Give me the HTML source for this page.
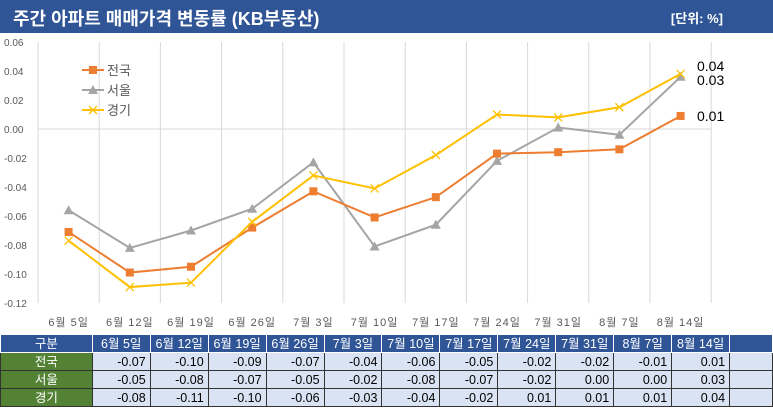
<!DOCTYPE html>
<html><head><meta charset="utf-8"><style>
body{margin:0;width:773px;height:409px;background:#fff;overflow:hidden;font-family:"Liberation Sans","Noto Sans CJK KR",sans-serif}
#title{position:absolute;left:0;top:0;width:773px;height:33px;background:#2f5597;color:#fff;font-weight:bold}
#title .t{position:absolute;left:13px;top:5px;font-size:18px}
#title .u{position:absolute;right:50px;top:8px;font-size:13px}
table{position:absolute;left:0;top:334px;border-collapse:collapse;font-size:12.5px}
td{height:17px;line-height:16px;padding:0 4px;border:1px solid #333;text-align:right;background:#dae3f3;color:#000;box-sizing:border-box}
td.h{background:#2f5597;color:#fff;text-align:center;border-color:#fff}
td.l{background:#548235;color:#fff;text-align:center;width:83px}
</style></head><body>
<div id="title"><span class="t">주간 아파트 매매가격 변동률 (KB부동산)</span><span class="u">[단위: %]</span></div>
<svg id="chart" width="773" height="333" style="position:absolute;left:0;top:0"></svg>
<table id="tbl"></table>
<script>
const categories=["6월 5일","6월 12일","6월 19일","6월 26일","7월 3일","7월 10일","7월 17일","7월 24일","7월 31일","8월 7일","8월 14일"];
const national=[-0.071,-0.099,-0.095,-0.068,-0.043,-0.061,-0.047,-0.017,-0.016,-0.014,0.009];
const seoul=[-0.056,-0.082,-0.070,-0.055,-0.023,-0.081,-0.066,-0.022,0.001,-0.004,0.036];
const gyeonggi=[-0.077,-0.109,-0.106,-0.064,-0.032,-0.041,-0.018,0.010,0.008,0.015,0.038];
const yTicks=[0.06,0.04,0.02,0,-0.02,-0.04,-0.06,-0.08,-0.10,-0.12];
const tNational=["-0.07","-0.10","-0.09","-0.07","-0.04","-0.06","-0.05","-0.02","-0.02","-0.01","0.01"];
const tSeoul=["-0.05","-0.08","-0.07","-0.05","-0.02","-0.08","-0.07","-0.02","0.00","0.00","0.03"];
const tGyeonggi=["-0.08","-0.11","-0.10","-0.06","-0.03","-0.04","-0.02","0.01","0.01","0.01","0.04"];
const endLabels=["0.01","0.03","0.04"];

const NS="http://www.w3.org/2000/svg";
const svg=document.getElementById('chart');
const x0=38,step=61.2;
const X=i=>x0+step*(i+0.5);
const Y=v=>129-v*1450;
function mk(t,a,p){const e=document.createElementNS(NS,t);for(const k in a)e.setAttribute(k,a[k]);(p||svg).appendChild(e);return e;}
for(let i=0;i<=11;i++){const g=mk('line',{x1:x0+step*i,x2:x0+step*i,y1:42,y2:303,stroke:'#d9d9d9'});

}
yTicks.forEach(v=>{const t=mk('text',{x:4,y:Y(v)+4,'font-size':10,fill:'#595959'});t.textContent=v.toFixed(2);

});
mk('line',{x1:x0,x2:x0+step*11,y1:Y(0),y2:Y(0),stroke:'#d9d9d9'});
categories.forEach((c,i)=>{const t=mk('text',{x:X(i),y:326,'font-size':11,fill:'#595959','text-anchor':'middle','letter-spacing':'1'});t.textContent=c;

});
function series(data,color,marker,name){
 const g=mk('g',{});
 
 
 mk('polyline',{points:data.map((v,i)=>X(i)+','+Y(v)).join(' '),fill:'none',stroke:color,'stroke-width':2},g);
 data.forEach((v,i)=>drawMarker(g,X(i),Y(v),color,marker));
}
function drawMarker(g,x,y,c,m){
 if(m==='sq')mk('rect',{x:x-4,y:y-4,width:8,height:8,fill:c},g);
 else if(m==='tri')mk('polygon',{points:`${x},${y-5} ${x-5},${y+4} ${x+5},${y+4}`,fill:c},g);
 else mk('path',{d:`M${x-4},${y-4}L${x+4},${y+4}M${x-4},${y+4}L${x+4},${y-4}`,stroke:c,'stroke-width':1.3},g);
}
series(seoul,'#a5a5a5','tri','series-seoul');
series(national,'#ed7d31','sq','series-national');
series(gyeonggi,'#ffc000','x','series-gyeonggi');
[[national,'#ed7d31','sq','전국',70],[seoul,'#a5a5a5','tri','서울',90],[gyeonggi,'#ffc000','x','경기',110]].forEach(([d,c,m,n,y])=>{
 const g=mk('g',{});
 
 
 mk('line',{x1:82,x2:104,y1:y,y2:y,stroke:c,'stroke-width':2},g);drawMarker(g,93,y,c,m);
 const t=mk('text',{x:107,y:y+5,'font-size':13,fill:'#595959'},g);t.textContent=n;});
[[national,0],[seoul,1],[gyeonggi,2]].forEach(([d,k])=>{const yy=[Y(d[10])+4,84,70][k];
 const t=mk('text',{x:697,y:yy+1,'font-size':14,fill:'#000'});t.textContent=endLabels[k];
 
 });
const tbl=document.getElementById('tbl');
function row(label,vals,isHead,name){const tr=document.createElement('tr');
 
 
 tr.style.height='18px';
 const th=document.createElement('td');th.className=isHead?'h':'l';th.style.width='92px';th.textContent=label;tr.appendChild(th);
 vals.forEach(v=>{const td=document.createElement('td');if(isHead)td.className='h';td.style.width='58px';td.textContent=v;tr.appendChild(td);});
 const e=document.createElement('td');e.style.width='43px';if(isHead)e.className='h';tr.appendChild(e);tbl.appendChild(tr);}
row('구분',categories,true,'table-header');
row('전국',tNational,false,'row-national');
row('서울',tSeoul,false,'row-seoul');
row('경기',tGyeonggi,false,'row-gyeonggi');
</script>
</body></html>
